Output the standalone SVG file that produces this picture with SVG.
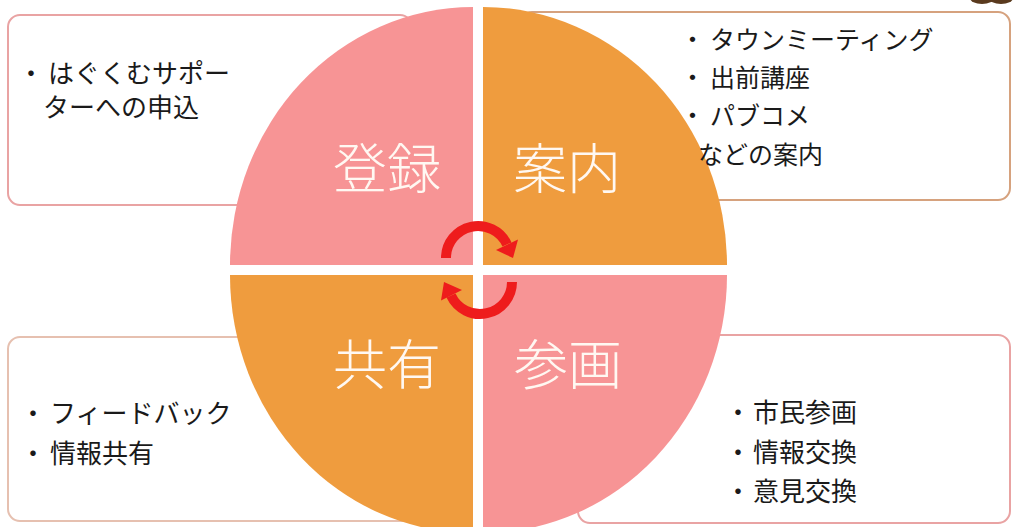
<svg xmlns="http://www.w3.org/2000/svg" width="1013" height="527" viewBox="0 0 1013 527">
  <defs>
    <style>
      .box { fill: #ffffff; stroke-width: 2; }
      .pinkb { stroke: #E9A3A3; }
      .brownb { stroke: #D6A27E; }
      .peachb { stroke: #E6C0B0; }
      .pink { fill: #F79495; }
      .orange { fill: #EF9C3E; }
      .txt { font-family: "Noto Sans CJK JP", "Noto Sans", sans-serif; font-size: 26px; fill: #1a1a1a; }
      .txt2 { font-family: "Noto Sans CJK JP", "Noto Sans", sans-serif; font-size: 25px; fill: #1a1a1a; }
      .big { font-family: "Noto Sans CJK JP", "Noto Sans", sans-serif; font-size: 54px; fill: #FFF8F2; text-anchor: middle; font-weight: 300; }
      .arc { fill: none; stroke: #EE1C1C; stroke-width: 10; }
      .head { fill: #EE1C1C; }
    </style>
  </defs>
  <rect width="1013" height="527" fill="#ffffff"/>
  <g id="corner-mark" fill="#5A3A1E">
    <ellipse cx="982" cy="-2" rx="12" ry="6"/>
    <ellipse cx="1001" cy="-2" rx="12" ry="6"/>
  </g>

  <g id="box-touroku">
    <rect class="box pinkb" x="8" y="15" width="404" height="190" rx="12"/>
  </g>
  <g id="box-annai">
    <rect class="box brownb" x="520" y="12" width="490" height="188" rx="12"/>
  </g>
  <g id="box-kyouyuu">
    <rect class="box peachb" x="8" y="337" width="430" height="184" rx="12"/>
  </g>
  <g id="box-sankaku">
    <rect class="box pinkb" x="578" y="335" width="432" height="188" rx="12"/>
  </g>

  <g id="node-touroku">
    <path class="pink" d="M473,265 L230,265 A243,258 0 0,1 473,7 Z"/>
    <text class="big" x="387" y="189">登録</text>
  </g>
  <g id="node-annai">
    <path class="orange" d="M483,265 L483,7 A244,258 0 0,1 727,265 Z"/>
    <text class="big" x="567" y="189">案内</text>
  </g>
  <g id="node-kyouyuu">
    <path class="orange" d="M473,275 L473,533 A243,258 0 0,1 230,275 Z"/>
    <text class="big" x="387" y="385">共有</text>
  </g>
  <g id="node-sankaku">
    <path class="pink" d="M483,275 L727,275 A244,258 0 0,1 483,533 Z"/>
    <text class="big" x="568" y="385">参画</text>
  </g>

  <g id="text-touroku" class="txt">
    <text y="83"><tspan x="18">・</tspan><tspan x="48">はぐくむサポー</tspan></text>
    <text x="43" y="117">ターへの申込</text>
  </g>
  <g id="text-annai" class="txt2">
    <text y="49"><tspan x="680">・</tspan><tspan x="710">タウンミーティング</tspan></text>
    <text y="87"><tspan x="680">・</tspan><tspan x="710">出前講座</tspan></text>
    <text y="125"><tspan x="680">・</tspan><tspan x="710">パブコメ</tspan></text>
    <text x="698" y="164">などの案内</text>
  </g>
  <g id="text-kyouyuu" class="txt">
    <text y="423"><tspan x="20">・</tspan><tspan x="50">フィードバック</tspan></text>
    <text y="463"><tspan x="20">・</tspan><tspan x="50">情報共有</tspan></text>
  </g>
  <g id="text-sankaku" class="txt">
    <text y="422"><tspan x="725">・</tspan><tspan x="753">市民参画</tspan></text>
    <text y="462"><tspan x="725">・</tspan><tspan x="753">情報交換</tspan></text>
    <text y="501"><tspan x="725">・</tspan><tspan x="753">意見交換</tspan></text>
  </g>

  <g id="connectors">
    <path class="arc" d="M446,258 A32,32 0 0,1 507,244.5"/>
    <polygon class="head" points="518,239.5 496,250 513,258"/>
    <path class="arc" d="M512,282 A32,32 0 0,1 451,295.5"/>
    <polygon class="head" points="441,300.5 462,290 444,282"/>
  </g>
</svg>
